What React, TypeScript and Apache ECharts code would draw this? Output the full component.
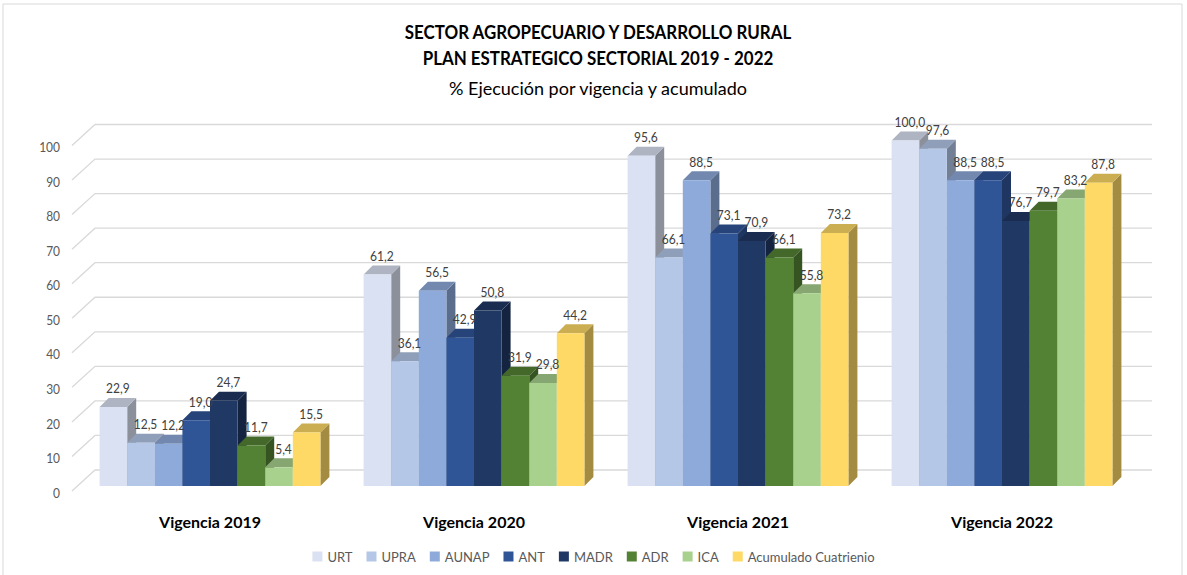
import React, { useEffect, useRef } from "react";
import * as echarts from "echarts";

const categories = ["Vigencia 2019", "Vigencia 2020", "Vigencia 2021", "Vigencia 2022"];
const seriesNames = ["URT", "UPRA", "AUNAP", "ANT", "MADR", "ADR", "ICA", "Acumulado Cuatrienio"];
const seriesColors = ["#dae1f2", "#b4c7e7", "#8eaadb", "#2f5597", "#203864", "#548235", "#a9d18e", "#ffd966"];
const urt = [22.9, 61.2, 95.6, 100.0];
const upra = [12.5, 36.1, 66.1, 97.6];
const aunap = [12.2, 56.5, 88.5, 88.5];
const ant = [19.0, 42.9, 73.1, 88.5];
const madr = [24.7, 50.8, 70.9, 76.7];
const adr = [11.7, 31.9, 66.1, 79.7];
const ica = [5.4, 29.8, 55.8, 83.2];
const acumulado = [15.5, 44.2, 73.2, 87.8];
const seriesValues = [urt, upra, aunap, ant, madr, adr, ica, acumulado];
const yTicks = [0, 10, 20, 30, 40, 50, 60, 70, 80, 90, 100];
const titleLines = [
  "SECTOR AGROPECUARIO Y DESARROLLO RURAL",
  "PLAN ESTRATEGICO SECTORIAL 2019 - 2022",
  "% Ejecución por vigencia y acumulado",
];

const FONT = "Lato, 'Noto Sans', sans-serif";
const BW = 27.6;
const D = 9;

function shade(hex: string, f: number): string {
  const n = parseInt(hex.slice(1), 16);
  const r = Math.round(((n >> 16) & 255) * f);
  const g = Math.round(((n >> 8) & 255) * f);
  const b = Math.round((n & 255) * f);
  return `rgb(${r},${g},${b})`;
}

export default function App() {
  const ref = useRef<HTMLDivElement>(null);
  useEffect(() => {
    if (!ref.current) return;
    const chart = echarts.init(ref.current, undefined, { renderer: "svg" });
    const n = seriesNames.length;

    const barSeries = seriesNames.map((name, si) => ({
      type: "custom",
      name,
      itemStyle: { color: seriesColors[si] },
      z: 3,
      data: seriesValues[si].map((v, ci) => [ci, v]),
      renderItem: (params: any, api: any) => {
        const ci = api.value(0);
        const v = api.value(1);
        const base = api.coord([ci, 0]);
        const top = api.coord([ci, v]);
        const x = base[0] - (BW * n) / 2 + si * BW;
        const y0 = base[1];
        const y1 = top[1];
        const c = seriesColors[si];
        return {
          type: "group",
          children: [
            {
              type: "polygon",
              shape: { points: [[x + BW, y1], [x + BW + D, y1 - D], [x + BW + D, y0 - D], [x + BW, y0]] },
              style: { fill: shade(c, 0.64) },
            },
            {
              type: "polygon",
              shape: { points: [[x, y1], [x + D, y1 - D], [x + BW + D, y1 - D], [x + BW, y1]] },
              style: { fill: shade(c, 0.8) },
            },
            {
              type: "rect",
              shape: { x, y: y1, width: BW, height: y0 - y1 },
              style: { fill: c },
            },
          ],
        };
      },
    }));

    const labelData: number[][] = [];
    seriesValues.forEach((arr, si) => arr.forEach((v, ci) => labelData.push([ci, v, si])));

    const labelSeries = {
      type: "custom",
      name: "labels",
      z: 5,
      silent: true,
      data: labelData,
      renderItem: (params: any, api: any) => {
        const ci = api.value(0);
        const v = api.value(1);
        const si = api.value(2);
        const base = api.coord([ci, 0]);
        const top = api.coord([ci, v]);
        const x = base[0] - (BW * n) / 2 + si * BW + BW / 2 + D / 2;
        return {
          type: "text",
          x,
          y: top[1] - D - 3,
          scaleX: 0.86,
          style: {
            text: v.toFixed(1).replace(".", ","),
            fill: "#404040",
            font: `14px ${FONT}`,
            align: "center",
            verticalAlign: "bottom",
          },
        };
      },
    };

    const gridSeries = {
      type: "custom",
      name: "grid3d",
      z: 1,
      silent: true,
      data: yTicks.map((t) => [0, t]),
      renderItem: (params: any, api: any) => {
        const t = api.value(1);
        const y = api.coord([0, t])[1];
        const cs = params.coordSys;
        const x0 = cs.x - 6;
        return {
          type: "group",
          children: [
            {
              type: "polyline",
              shape: { points: [[x0, y + 5], [x0 + 23, y - 16], [cs.x + cs.width + 18, y - 16]] },
              style: { stroke: "#d9d9d9", lineWidth: 1.3, fill: "none" },
            },
            {
              type: "text",
              x: x0 - 12,
              y: y + 7,
              scaleX: 0.92,
              style: {
                text: String(t),
                fill: "#595959",
                font: `13px ${FONT}`,
                align: "right",
                verticalAlign: "middle",
              },
            },
          ],
        };
      },
    };

    chart.setOption({
      animation: false,
      backgroundColor: "#ffffff",
      textStyle: { fontFamily: FONT },
      graphic: [
        {
          type: "rect",
          shape: { x: 3, y: 4, width: 1179, height: 590 },
          style: { fill: "none", stroke: "#d9d9d9", lineWidth: 1 },
          silent: true,
        },
        {
          type: "text",
          x: 598,
          y: 32,
          scaleX: 0.94,
          style: { text: titleLines[0], font: `bold 18px ${FONT}`, fill: "#000", align: "center", verticalAlign: "middle" },
        },
        {
          type: "text",
          x: 598,
          y: 58,
          scaleX: 0.94,
          style: { text: titleLines[1], font: `bold 18px ${FONT}`, fill: "#000", align: "center", verticalAlign: "middle" },
        },
        {
          type: "text",
          x: 598,
          y: 88,
          scaleX: 1.0,
          style: { text: titleLines[2], font: `18px ${FONT}`, fill: "#000", align: "center", verticalAlign: "middle" },
        },
      ],
      legend: {
        data: seriesNames,
        bottom: 7,
        left: "center",
        icon: "rect",
        itemWidth: 10,
        itemHeight: 10,
        itemGap: 14,
        textStyle: { fontSize: 13, color: "#595959", fontFamily: FONT },
      },
      grid: { left: 78, right: 53, top: 140.5, bottom: 89 },
      xAxis: {
        type: "category",
        data: categories,
        axisLine: { show: false },
        axisTick: { show: false },
        axisLabel: { fontSize: 16, fontWeight: "bold", color: "#000", margin: 27, fontFamily: FONT },
      },
      yAxis: {
        type: "value",
        min: 0,
        max: 100,
        interval: 10,
        axisLine: { show: false },
        axisTick: { show: false },
        splitLine: { show: false },
        axisLabel: { show: false },
      },
      series: [gridSeries, ...barSeries, labelSeries],
    });
    return () => chart.dispose();
  }, []);
  return (
    <div
      ref={ref}
      style={{ position: "fixed", left: 0, top: 0, width: 1187, height: 575 }}
    />
  );
}
